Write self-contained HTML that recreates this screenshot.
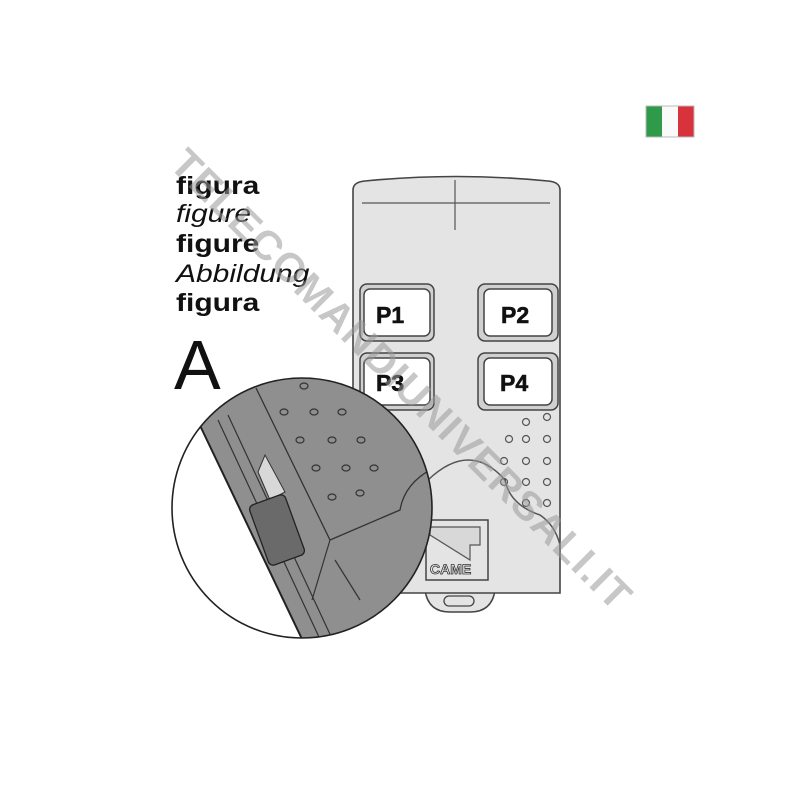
<!DOCTYPE html>
<html><head><style>body{margin:0;background:#fff}svg{display:block}</style></head><body>
<svg width="800" height="800" viewBox="0 0 800 800" xmlns="http://www.w3.org/2000/svg" font-family="Liberation Sans, sans-serif">
<rect width="800" height="800" fill="#fff"/>
<!-- flag -->
<rect x="646" y="106" width="16" height="31" fill="#2e9a4a"/>
<rect x="662" y="106" width="16" height="31" fill="#fafafa"/>
<rect x="678" y="106" width="16" height="31" fill="#d8323c"/>
<rect x="646" y="106" width="48" height="31" fill="none" stroke="#bbb" stroke-width="1"/>
<!-- texts -->
<g transform="translate(176 0) scale(1.2 1) translate(-176 0)">
<text x="176" y="194" font-size="25" font-weight="bold" fill="#111">figura</text>
<text x="176" y="222" font-size="25" font-style="italic" fill="#111">figure</text>
<text x="176" y="252" font-size="25" font-weight="bold" fill="#111">figure</text>
<text x="176" y="282" font-size="25" font-style="italic" fill="#111">Abbildung</text>
<text x="176" y="311" font-size="25" font-weight="bold" fill="#111">figura</text>
</g>
<text x="174" y="389" font-size="70" fill="#111">A</text>
<!-- remote tab -->
<path d="M425 590 Q428 612 450 612 L470 612 Q492 612 495 590 Z" fill="#e4e4e4" stroke="#444" stroke-width="1.5"/>
<rect x="444" y="596" width="30" height="10" rx="5" fill="none" stroke="#444" stroke-width="1.3"/>
<!-- remote body -->
<path d="M353 190 Q353 182 365 181 Q456 172 548 181 Q560 182 560 190 L560 593 L353 593 Z" fill="#e4e4e4" stroke="#444" stroke-width="1.6"/>
<line x1="362" y1="203" x2="550" y2="203" stroke="#555" stroke-width="1.2"/>
<line x1="455" y1="180" x2="455" y2="230" stroke="#555" stroke-width="1.2"/>
<!-- buttons -->
<g stroke="#444" stroke-width="1.5">
<rect x="360" y="284" width="74" height="57" rx="7" fill="#d0d0d0"/>
<rect x="364" y="289" width="66" height="47" rx="6" fill="#fff"/>
<rect x="478" y="284" width="80" height="57" rx="7" fill="#d0d0d0"/>
<rect x="484" y="289" width="68" height="47" rx="6" fill="#fff"/>
<rect x="360" y="353" width="74" height="57" rx="7" fill="#d0d0d0"/>
<rect x="364" y="358" width="66" height="47" rx="6" fill="#fff"/>
<rect x="478" y="353" width="80" height="57" rx="7" fill="#d0d0d0"/>
<rect x="484" y="358" width="68" height="47" rx="6" fill="#fff"/>
</g>
<g font-size="23" font-weight="bold" fill="#111" stroke="#111" stroke-width="0.6">
<text x="376" y="323">P1</text><text x="501" y="323">P2</text>
<text x="376" y="391">P3</text><text x="500" y="391">P4</text>
</g>
<!-- dots -->
<g fill="none" stroke="#555" stroke-width="1.2">
<circle cx="526" cy="422" r="3.5"/><circle cx="547" cy="417" r="3.5"/>
<circle cx="509" cy="439" r="3.5"/><circle cx="526" cy="439" r="3.5"/><circle cx="547" cy="439" r="3.5"/>
<circle cx="504" cy="461" r="3.5"/><circle cx="526" cy="461" r="3.5"/><circle cx="547" cy="461" r="3.5"/>
<circle cx="504" cy="482" r="3.5"/><circle cx="526" cy="482" r="3.5"/><circle cx="547" cy="482" r="3.5"/>
<circle cx="526" cy="503" r="3.5"/><circle cx="547" cy="503" r="3.5"/>
</g>
<path d="M428 480 Q470 440 505 480 Q510 505 540 515 Q555 525 560 545" fill="none" stroke="#555" stroke-width="1.5"/>
<!-- came logo -->
<rect x="426" y="520" width="62" height="60" fill="#e4e4e4" stroke="#444" stroke-width="1.5"/>
<path d="M430 527 L480 527 L480 545 L470 545 L470 560 L430 535 Z" fill="#d8d8d8" stroke="#555" stroke-width="1.2"/>
<text x="430" y="574" font-size="14" font-weight="bold" fill="#eee" stroke="#333" stroke-width="0.8">CAME</text>
<!-- magnifier circle -->
<defs><clipPath id="c"><circle cx="302" cy="508" r="130"/></clipPath></defs>
<g clip-path="url(#c)">
<rect x="160" y="370" width="290" height="290" fill="#fff"/>
<path d="M195 415 L240 370 L450 370 L450 660 L312 660 Z" fill="#8f8f8f"/>
<path d="M195 415 L312 660" stroke="#222" stroke-width="2" fill="none"/>
<path d="M218 420 L325 650" stroke="#333" stroke-width="1.2" fill="none"/>
<path d="M228 415 L335 645" stroke="#333" stroke-width="1.2" fill="none"/>
<path d="M256 388 L330 540 L400 510 Q405 480 440 465" stroke="#333" stroke-width="1.3" fill="none"/>
<path d="M330 540 L312 600" stroke="#333" stroke-width="1.2" fill="none"/>
<path d="M335 560 L360 600" stroke="#333" stroke-width="1.2" fill="none"/>
<path d="M258 472 L265 455 L285 492 L270 500 Z" fill="#d8d8d8" stroke="#333" stroke-width="1"/>
<rect x="258" y="498" width="38" height="64" rx="5" fill="#6a6a6a" stroke="#222" stroke-width="1.3" transform="rotate(-20 277 530)"/>
<g fill="none" stroke="#333" stroke-width="1.2">
<ellipse cx="304" cy="386" rx="4" ry="3"/>
<ellipse cx="284" cy="412" rx="4" ry="3"/><ellipse cx="314" cy="412" rx="4" ry="3"/><ellipse cx="342" cy="412" rx="4" ry="3"/>
<ellipse cx="300" cy="440" rx="4" ry="3"/><ellipse cx="332" cy="440" rx="4" ry="3"/><ellipse cx="361" cy="440" rx="4" ry="3"/>
<ellipse cx="316" cy="468" rx="4" ry="3"/><ellipse cx="346" cy="468" rx="4" ry="3"/><ellipse cx="374" cy="468" rx="4" ry="3"/>
<ellipse cx="332" cy="497" rx="4" ry="3"/><ellipse cx="360" cy="493" rx="4" ry="3"/>
</g>
</g>
<circle cx="302" cy="508" r="130" fill="none" stroke="#222" stroke-width="1.6"/>
<!-- watermark -->
<text x="0" y="0" font-size="41" font-weight="bold" fill="#999" fill-opacity="0.55" transform="translate(168 166) rotate(45)" letter-spacing="1.5">TELECOMANDIUNIVERSALI.IT</text>
</svg>
</body></html>
